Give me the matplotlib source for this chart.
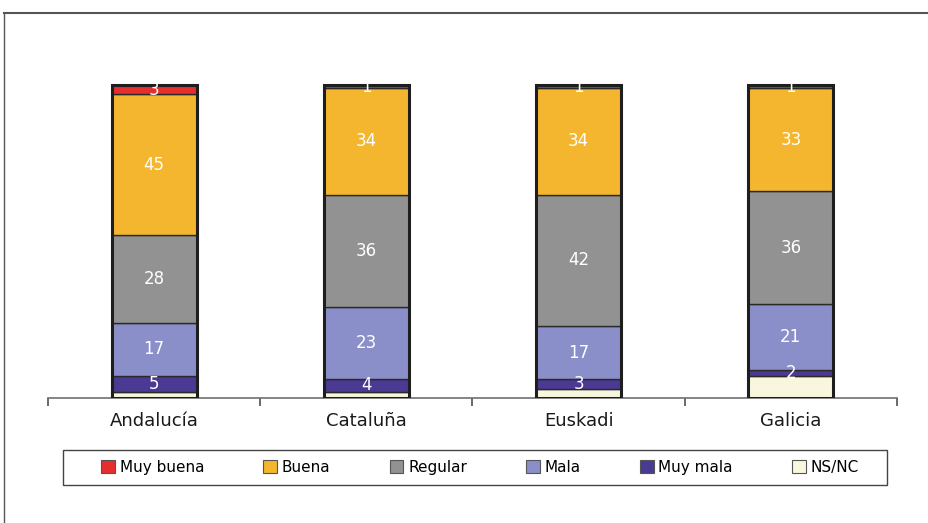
import numpy as np
import matplotlib.pyplot as plt
from matplotlib.lines import Line2D
from matplotlib.patches import Patch, Rectangle

### Data
regiones = ['Andalucía', 'Cataluña', 'Euskadi', 'Galicia']
series = ['Muy buena', 'Buena', 'Regular', 'Mala', 'Muy mala', 'NS/NC']
muy_buena = [3, 1, 1, 1]
buena = [45, 34, 34, 33]
regular = [28, 36, 42, 36]
mala = [17, 23, 17, 21]
muy_mala = [5, 4, 3, 2]
ns_nc = [2, 2, 3, 7]

colores = {'Muy buena': '#E62E2D', 'Buena': '#F3B62E', 'Regular': '#929292',
           'Mala': '#8B8FC9', 'Muy mala': '#4A3A93', 'NS/NC': '#F8F7DD'}

### Stacking order (bottom to top)
apilado = [('NS/NC', ns_nc), ('Muy mala', muy_mala), ('Mala', mala),
           ('Regular', regular), ('Buena', buena), ('Muy buena', muy_buena)]

fig = plt.figure(figsize=(9.29, 5.23), dpi=100)
W, H = 929, 523
ax = fig.add_axes([48 / W, (H - 398) / H, (897 - 48) / W, (398 - 60) / H])

x = np.arange(len(regiones))
bottom = np.zeros(len(regiones))
for nombre, vals in apilado:
    vals = np.array(vals, dtype=float)
    ax.bar(x, vals, 0.4, bottom=bottom, color=colores[nombre],
           edgecolor='#2a2a2a', linewidth=1.0, zorder=2)
    if nombre != 'NS/NC':
        for xi, b, v in zip(x, bottom, vals):
            ax.text(xi, b + v / 2, str(int(v)), ha='center', va='center',
                    color='white', fontsize=12, zorder=4)
    bottom += vals

### thick outline of each bar
for xi, tot in zip(x, bottom):
    ax.bar(xi, tot, 0.4, fill=False, edgecolor='#1e1e1e', linewidth=2.2, zorder=3)

ax.set_xlim(-0.5, 3.5)
ax.set_ylim(0, 338 / 3.13)
for s in ['top', 'right', 'left']:
    ax.spines[s].set_visible(False)
ax.spines['bottom'].set_color('#707070')
ax.spines['bottom'].set_linewidth(1.2)
ax.set_yticks([])
ax.set_xticks(np.arange(-0.5, 4.0, 1.0))
ax.set_xticklabels([])
ax.tick_params(axis='x', direction='out', length=6, width=1.2, color='#505050')
for xi, r in zip(x, regiones):
    ax.text(xi, -4.5, r, ha='center', va='top', fontsize=13, color='#1a1a1a')

### outer frame (top and left edges)
fig.add_artist(Line2D([4 / W, 1], [1 - 12.5 / H, 1 - 12.5 / H], color='#555555', lw=1.5))
fig.add_artist(Line2D([4.5 / W, 4.5 / W], [0, 1 - 12.5 / H], color='#555555', lw=1.0))

### legend box
fig.add_artist(Rectangle((63 / W, (H - 485) / H), (887 - 63) / W, 35 / H,
                         transform=fig.transFigure, fill=False,
                         edgecolor='#444444', linewidth=1.0))
handles = [Patch(facecolor=colores[s], edgecolor='#555555', linewidth=0.8) for s in series]
leg = fig.legend(handles, series, loc='center', ncol=6,
                 bbox_to_anchor=(92 / W, (H - 485) / H, (868 - 92) / W, 35 / H),
                 mode='expand', borderaxespad=0, frameon=False,
                 fontsize=11, handlelength=0.9, handleheight=0.9, handletextpad=0.3,
                 borderpad=0.6, columnspacing=2.0)

fig.savefig('out.png', dpi=100)
